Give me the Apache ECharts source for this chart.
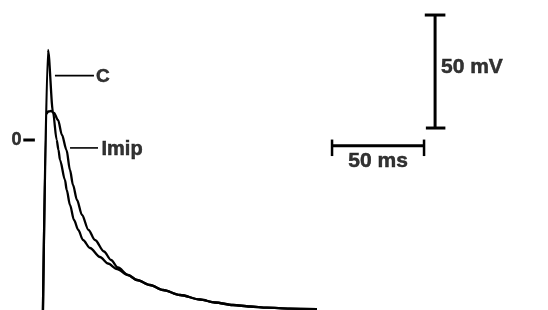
<!DOCTYPE html>
<html>
<head>
<meta charset="utf-8">
<script src="https://cdn.jsdelivr.net/npm/echarts@6/dist/echarts.min.js"></script>
<style>html,body{margin:0;padding:0;background:#fff;}#c{width:548px;height:310px;}</style>
</head>
<body>
<div id="c"></div>
<script>
// Time (ms) and membrane potential (mV)
const tC = [0, 2.83, 5.54, 7.55, 8.53, 9.35, 12.07, 12.99, 14.78, 16.96, 19.29, 21.85, 25.65, 31.09, 35.43, 40.33, 46.30, 51.2, 58.26, 65.33, 74.57, 85.43, 93.59, 103.37, 112.61, 121.85, 134.35, 149.0];
const vC = [-80, 39.82, 12.39, 0, -4.42, -8.85, -17.70, -22.12, -28.76, -35.40, -39.82, -44.25, -47.79, -51.77, -54.65, -57.08, -59.73, -61.95, -64.16, -66.37, -68.58, -70.58, -71.90, -73.01, -73.67, -74.20, -74.60, -74.87];
const tImip = [0, 2.16, 2.83, 4.46, 6.09, 8.26, 10.43, 12.88, 14.78, 16.41, 18.59, 21.30, 24.84, 28.37, 33.26, 37.07, 40.87, 46.30, 51.2, 58.26, 65.33, 74.57, 85.43, 93.59, 103.37, 112.61, 121.85, 134.35, 149.0];
const vImip = [-80, 11.73, 12.61, 12.83, 11.95, 8.85, 2.21, -4.42, -13.27, -19.91, -26.55, -33.19, -39.82, -44.25, -49.34, -53.10, -56.42, -59.73, -61.95, -64.16, -66.37, -68.58, -70.58, -71.90, -73.01, -73.67, -74.20, -74.60, -74.87];
const seriesNames = ['C', 'Imip'];
const zeroLabel = '0';
const scaleBarMs = 50;
const scaleBarMv = 50;

const ink = '#000';
const font = 'Liberation Sans, Arial, Helvetica, sans-serif';
function zip(a, b) { return a.map((v, i) => [v, b[i]]); }
function seg(p1, p2, w) {
  return { type: 'line', data: [p1, p2], symbol: 'none', silent: true, animation: false,
    lineStyle: { color: ink, width: w }, z: 3 };
}
function txt(p, s, size, align) {
  return { type: 'scatter', data: [p], symbolSize: 0, silent: true, animation: false,
    itemStyle: { color: ink },
    label: { show: true, position: 'inside', formatter: s, align: align || 'left', verticalAlign: 'middle',
      color: ink, textBorderColor: ink, textBorderWidth: 0.5, fontSize: size, fontWeight: 'bold', fontFamily: font } };
}

// scale bar anchors (data units)
const vbT = 213.2, vbTop = 55.3;
const hbV = -2.5, hbL = 157.2;

const series = [
  { name: seriesNames[0], type: 'line', data: zip(tC, vC), symbol: 'none', smooth: 0.3, smoothMonotone: 'x', animation: false,
    lineStyle: { color: ink, width: 2.3 } },
  { name: seriesNames[1], type: 'line', data: zip(tImip, vImip), symbol: 'none', smooth: 0.3, smoothMonotone: 'x', animation: false,
    lineStyle: { color: ink, width: 2.3 } },
  // leader lines + labels
  seg([6.6, 28.5], [27.8, 28.5], 1.6),
  txt([28.9, 28.0], seriesNames[0], 19),
  seg([14.8, -3.5], [30.0, -3.5], 1.6),
  txt([31.9, -4.4], seriesNames[1], 20),
  // zero marker
  txt([-14.3, 0], zeroLabel, 18, 'center'),
  seg([-10.6, 0], [-4.3, 0], 3),
  // vertical scale bar
  seg([vbT, vbTop], [vbT, vbTop - scaleBarMv], 3),
  seg([vbT - 5.6, vbTop], [vbT + 5.6, vbTop], 3),
  seg([vbT - 5.0, vbTop - scaleBarMv], [vbT + 5.6, vbTop - scaleBarMv], 3),
  txt([vbT + 3.2, 32.4], scaleBarMv + ' mV', 21),
  // horizontal scale bar
  seg([hbL, hbV], [hbL + scaleBarMs, hbV], 3),
  seg([hbL, 0.2], [hbL, -7.1], 2.5),
  seg([hbL + scaleBarMs, 0.2], [hbL + scaleBarMs, -7.1], 2.5),
  txt([hbL + scaleBarMs / 2, -9.3], scaleBarMs + ' ms', 21, 'center')
];

const chart = echarts.init(document.getElementById('c'), null, { renderer: 'canvas' });
chart.setOption({
  backgroundColor: '#fff',
  animation: false,
  grid: { left: 0, right: 0, top: 0, bottom: 0 },
  xAxis: { type: 'value', min: -23.26, max: 274.57, show: false },
  yAxis: { type: 'value', min: -75.22, max: 61.95, show: false },
  series: series
});
</script>
</body>
</html>
